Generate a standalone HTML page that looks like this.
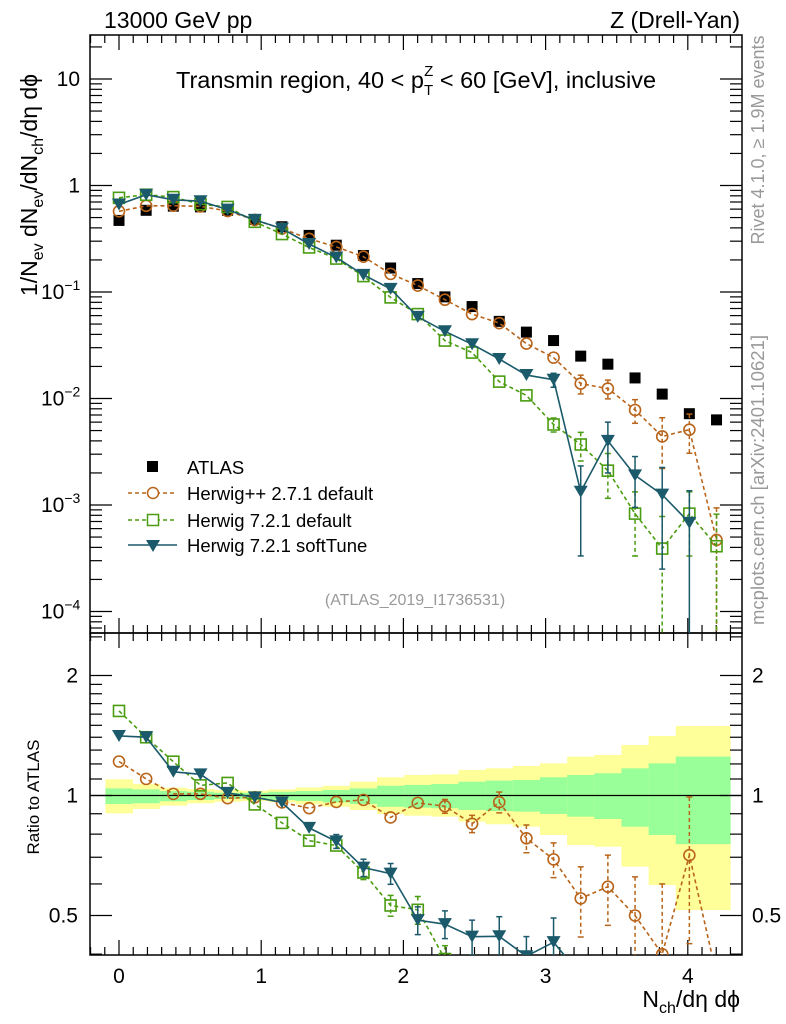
<!DOCTYPE html>
<html><head><meta charset="utf-8"><style>
html,body{margin:0;padding:0;background:#fff;overflow:hidden;width:786px;height:1024px;}
svg{display:block;font-family:"Liberation Sans",sans-serif;}
</style></head><body>
<svg id="chart" width="786" height="1024" viewBox="0 0 786 1024" xmlns="http://www.w3.org/2000/svg">
<defs>
<clipPath id="cm"><rect x="90" y="35" width="652" height="598"/></clipPath>
<clipPath id="cr"><rect x="90" y="633" width="652" height="322"/></clipPath>
</defs>
<g id="bands" clip-path="url(#cr)"></g>
<g id="axes"></g>
<g id="dataMain" clip-path="url(#cm)"></g>
<g id="dataRatio" clip-path="url(#cr)"></g>
<text x="104" y="28" font-size="23">13000 GeV pp</text>
<text x="740" y="28" font-size="23" text-anchor="end">Z (Drell-Yan)</text>
<text x="416" y="88" font-size="23.5" text-anchor="middle">Transmin region, 40 &lt; p<tspan font-size="15" dy="7">T</tspan><tspan font-size="15" dx="-9" dy="-19">Z</tspan><tspan dy="12"> &lt; 60 [GeV], inclusive</tspan></text>
<text x="415" y="605" font-size="16" fill="#999" text-anchor="middle">(ATLAS_2019_I1736531)</text>
<text transform="translate(764,140) rotate(-90)" font-size="18" fill="#999" text-anchor="middle">Rivet 4.1.0, ≥ 1.9M events</text>
<text transform="translate(764,480) rotate(-90)" font-size="18.5" fill="#999" text-anchor="middle">mcplots.cern.ch [arXiv:2401.10621]</text>
<text transform="translate(37,185) rotate(-90)" font-size="23" text-anchor="middle">1/N<tspan font-size="16" dy="6">ev</tspan><tspan dy="-6"> dN</tspan><tspan font-size="16" dy="6">ev</tspan><tspan dy="-6">/dN</tspan><tspan font-size="16" dy="6">ch</tspan><tspan dy="-6">/dη dϕ</tspan></text>
<text transform="translate(39,797) rotate(-90)" font-size="17" text-anchor="middle">Ratio to ATLAS</text>
<text x="740" y="1007" font-size="23" text-anchor="end">N<tspan font-size="16" dy="6">ch</tspan><tspan dy="-6">/dη dϕ</tspan></text>
<g id="legend">
<rect x="147" y="461" width="11" height="11" fill="#000"/>
<text x="187" y="474" font-size="18.5">ATLAS</text>
<line x1="128" y1="493" x2="177" y2="493" stroke="#b8641a" stroke-width="1.5" stroke-dasharray="4,3"/>
<circle cx="153" cy="493" r="5.5" fill="#fff" stroke="#b8641a" stroke-width="1.5"/>
<text x="187" y="500" font-size="18.5">Herwig++ 2.7.1 default</text>
<line x1="128" y1="520" x2="177" y2="520" stroke="#4a9c10" stroke-width="1.5" stroke-dasharray="4,3"/>
<rect x="147.5" y="514.5" width="11" height="11" fill="#fff" stroke="#4a9c10" stroke-width="1.5"/>
<text x="187" y="527" font-size="18.5">Herwig 7.2.1 default</text>
<line x1="128" y1="545" x2="177" y2="545" stroke="#1b5a6a" stroke-width="1.5"/>
<path d="M146,540 L160,540 L153,552 Z" fill="#1b5a6a"/>
<text x="187" y="552" font-size="18.5">Herwig 7.2.1 softTune</text>
</g>
</svg>
<script>
const xIndex = [0,1,2,3,4,5,6,7,8,9,10,11,12,13,14,15,16,17,18,19,20,21,22];
const binWidth = 0.191;
const atlas = [0.47,0.585,0.64,0.63,0.585,0.48,0.41,0.34,0.275,0.22,0.168,0.12,0.09,0.073,0.053,0.042,0.035,0.025,0.021,0.0156,0.011,0.0072,0.0063];
const herwigpp = [0.572,0.644,0.646,0.636,0.576,0.475,0.394,0.316,0.265,0.2145,0.148,0.115,0.0846,0.062,0.051,0.0328,0.0242,0.0138,0.0124,0.0078,0.0044,0.0051,0.00047];
const herwigppErr = [0.01,0.01,0.01,0.01,0.01,0.01,0.01,0.015,0.015,0.02,0.03,0.03,0.04,0.05,0.06,0.08,0.1,0.2,0.2,0.25,0.5,0.4,1.0];
const herwig7 = [0.766,0.819,0.778,0.668,0.629,0.456,0.35,0.262,0.206,0.141,0.089,0.062,0.035,0.027,0.0144,0.0107,0.0057,0.0037,0.0021,0.00083,0.00039,0.00083,0.00041];
const herwig7Err = [0.01,0.01,0.01,0.01,0.01,0.01,0.02,0.02,0.03,0.04,0.06,0.08,0.08,0.1,0.1,0.12,0.15,0.3,0.45,0.6,1.0,0.6,1.0];
const softTune = [0.663,0.819,0.734,0.712,0.594,0.475,0.394,0.282,0.211,0.145,0.107,0.0584,0.0428,0.0323,0.0235,0.0166,0.015,0.00133,0.004,0.0019,0.00125,0.00068,null];
const softTuneErr = [0.02,0.01,0.02,0.02,0.02,0.02,0.03,0.03,0.04,0.05,0.06,0.08,0.08,0.1,0.12,0.12,0.15,0.75,0.5,0.5,0.8,1.0,0];
const bandYellowUp = [1.098,1.069,1.046,1.038,1.032,1.028,1.036,1.048,1.058,1.083,1.111,1.126,1.13,1.159,1.17,1.186,1.204,1.252,1.264,1.339,1.41,1.494,1.494];
const bandYellowDn = [0.902,0.925,0.943,0.956,0.965,0.969,0.961,0.95,0.937,0.92,0.899,0.89,0.885,0.86,0.847,0.835,0.796,0.751,0.744,0.663,0.596,0.516,0.516];
const bandGreenUp = [1.042,1.036,1.026,1.022,1.016,1.016,1.022,1.026,1.032,1.042,1.058,1.063,1.069,1.083,1.09,1.094,1.111,1.126,1.137,1.17,1.204,1.252,1.252];
const bandGreenDn = [0.952,0.956,0.967,0.974,0.98,0.982,0.974,0.969,0.961,0.952,0.937,0.932,0.929,0.92,0.914,0.911,0.899,0.885,0.873,0.835,0.796,0.755,0.755];
const xTickLabels = ["0","1","2","3","4"];
const mainTickLabels = ["10","1","10","10","10","10"];
const mainTickExps = ["","","−1","−2","−3","−4"];
const ratioTickLabels = ["0.5","1","2"];

const NS="http://www.w3.org/2000/svg";
const X0=90,X1=742,YT=35,YM=633,YB=955;
function xs(v){return 119+v*142.2;}
function ym(v){return 185.5-106.5*Math.log10(v);}
function yr(r){return 795.5-120*Math.log2(r);}
function mk(tag,attrs,parent){const e=document.createElementNS(NS,tag);for(const k in attrs)e.setAttribute(k,attrs[k]);parent.appendChild(e);return e;}
const axes=document.getElementById('axes');
const bands=document.getElementById('bands');
const gm=document.getElementById('dataMain');
const gr=document.getElementById('dataRatio');

xIndex.forEach(i=>{
  const xl=xs((i-0.5)*binWidth), xr=xs((i+0.5)*binWidth);
  const y=mk('rect',{x:xl,y:yr(bandYellowUp[i]),width:xr-xl+0.5,height:yr(bandYellowDn[i])-yr(bandYellowUp[i]),fill:'#ffff99'},bands);
  
  
  const g=mk('rect',{x:xl,y:yr(bandGreenUp[i]),width:xr-xl+0.5,height:yr(bandGreenDn[i])-yr(bandGreenUp[i]),fill:'#99ff99'},bands);
  
  
});
mk('line',{x1:X0,x2:X1,y1:yr(1),y2:yr(1),stroke:'#000','stroke-width':1.2},bands);

const f1=mk('rect',{x:X0,y:YT,width:X1-X0,height:YM-YT,fill:'none',stroke:'#000','stroke-width':1.5},axes);


const f2=mk('rect',{x:X0,y:YM,width:X1-X0,height:YB-YM,fill:'none',stroke:'#000','stroke-width':1.5},axes);



for(let k=-2;k<=43;k++){
  const v=k/10, x=xs(v); if(x<X0||x>X1) continue;
  const major=(k%10===0), L=major?15:8;
  [[YT,1],[YM,-1],[YM,1],[YB,-1]].forEach(([y0,d])=>mk('line',{x1:x,x2:x,y1:y0,y2:y0+d*L,stroke:'#000','stroke-width':1.2},axes));
}
xTickLabels.forEach((t,i)=>{
  const e=mk('text',{x:xs(i),y:983,'font-size':21,'text-anchor':'middle'},axes); e.textContent=t;
  
  
});
for(let d=-5;d<=1;d++){
  for(let m=1;m<=9;m++){
    const v=m*Math.pow(10,d), y=ym(v); if(y<YT||y>YM) continue;
    const L=m===1?22:12;
    mk('line',{x1:X0,x2:X0+L,y1:y,y2:y,stroke:'#000','stroke-width':1.2},axes);
    mk('line',{x1:X1,x2:X1-L,y1:y,y2:y,stroke:'#000','stroke-width':1.2},axes);
  }
}
mainTickLabels.forEach((t,i)=>{
  const y=ym(Math.pow(10,1-i));
  const e=mk('text',{x:80,y:y+7,'font-size':21,'text-anchor':'end'},axes);
  e.textContent=t;
  if(mainTickExps[i]){const s=mk('tspan',{'font-size':14,dy:-9},e);s.textContent=mainTickExps[i];e.setAttribute('text-anchor','start');e.setAttribute('x',41);}
  
  
});
const rt=[0.4,0.5,0.6,0.7,0.8,0.9,1,1.1,1.2,1.3,1.4,1.5,1.6,1.7,1.8,1.9,2,2.5];
rt.forEach(r=>{const y=yr(r); if(y<YM||y>YB) return; const L=(r===0.5||r===1||r===2)?22:12;
  mk('line',{x1:X0,x2:X0+L,y1:y,y2:y,stroke:'#000','stroke-width':1.2},axes);
  mk('line',{x1:X1,x2:X1-L,y1:y,y2:y,stroke:'#000','stroke-width':1.2},axes);});
ratioTickLabels.forEach(t=>{
  const y=yr(parseFloat(t));
  const a=mk('text',{x:78,y:y+7,'font-size':21,'text-anchor':'end'},axes); a.textContent=t;
  
  
  const b=mk('text',{x:752,y:y+7,'font-size':21,'text-anchor':'start'},axes); b.textContent=t;
  
  
});

function drawSeries(vals,errs,color,dash,shape,name,g,yf,ratioMode){
  const pts=[];
  xIndex.forEach(i=>{
    let v=vals[i]; if(v===null) { pts.push(null); return; }
    let e=errs[i];
    if(ratioMode){ v=v/atlas[i]; }
    pts.push([xs(i*binWidth),yf(v),v,e]);
  });
  let d=''; let pen=false;
  pts.forEach(p=>{ if(!p){pen=false;return;} d+=(pen?'L':'M')+p[0].toFixed(1)+','+Math.min(p[1],YB+20).toFixed(1); pen=true; });
  const ln=mk('path',{d:d,fill:'none',stroke:color,'stroke-width':1.6,'stroke-dasharray':dash},g);
  
  
  pts.forEach(p=>{
    if(!p) return;
    const [x,y,v,e]=p;
    if(y>YB+10) return;
    const hi=yf(v*(1+e)); const lo=(e>=1)?YB+5:Math.min(yf(v*(1-e)),YB+5);
    if(lo-hi>12){
      mk('line',{x1:x,x2:x,y1:hi,y2:lo,stroke:color,'stroke-width':1.5,'stroke-dasharray':dash},g);
      mk('line',{x1:x-3,x2:x+3,y1:hi,y2:hi,stroke:color,'stroke-width':1.5},g);
      mk('line',{x1:x-3,x2:x+3,y1:lo,y2:lo,stroke:color,'stroke-width':1.5},g);
    }
    let m;
    if(shape==='circle') m=mk('circle',{cx:x,cy:y,r:5.5,fill:'none',stroke:color,'stroke-width':1.6},g);
    else if(shape==='square') m=mk('rect',{x:x-5.5,y:y-5.5,width:11,height:11,fill:'none',stroke:color,'stroke-width':1.6},g);
    else m=mk('path',{d:`M${x-7},${y-6} L${x+7},${y-6} L${x},${y+6} Z`,fill:color},g);
    
    
  });
}
xIndex.forEach(i=>{
  const s=mk('rect',{x:xs(i*binWidth)-5.5,y:ym(atlas[i])-5.5,width:11,height:11,fill:'#000'},gm);
  
  
});
drawSeries(herwigpp,herwigppErr,'#b8641a','4,3','circle','herwigpp',gm,ym,false);
drawSeries(herwig7,herwig7Err,'#4a9c10','4,3','square','herwig7-default',gm,ym,false);
drawSeries(softTune,softTuneErr,'#1b5a6a','none','tri','herwig7-softtune',gm,ym,false);
drawSeries(herwigpp,herwigppErr,'#b8641a','4,3','circle','herwigpp-ratio',gr,yr,true);
drawSeries(herwig7,herwig7Err,'#4a9c10','4,3','square','herwig7-default-ratio',gr,yr,true);
drawSeries(softTune,softTuneErr,'#1b5a6a','none','tri','herwig7-softtune-ratio',gr,yr,true);
</script>
</body></html>
